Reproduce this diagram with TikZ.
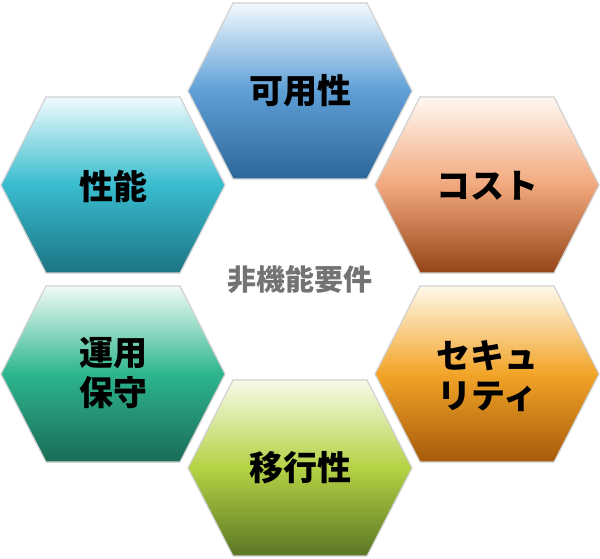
\documentclass[tikz,border=0pt]{standalone}
\usepackage{fontspec}
\newfontfamily\jpfont{Noto Sans CJK JP}
\tikzset{
    hexa/.pic={\path[pic actions] (-112,0) -- (-67,-88) -- (67,-88) -- (112,0) -- (67,88) -- (-67,88) -- cycle;},
    hexbox/.style={draw=black!18, line width=1.2pt},
    label/.style={font=\jpfont\bfseries\fontsize{34}{40}\selectfont, align=center, text=black},
}
\definecolor{blueT}{HTML}{F2F9FE}\definecolor{blueM}{HTML}{5E9FD6}\definecolor{blueB}{HTML}{2C6699}
\definecolor{tealT}{HTML}{EFFBFD}\definecolor{tealM}{HTML}{38BCCE}\definecolor{tealB}{HTML}{1D7484}
\definecolor{peachT}{HTML}{FFF8F3}\definecolor{peachM}{HTML}{F2A87C}\definecolor{peachB}{HTML}{954517}
\definecolor{seaT}{HTML}{F0FBF6}\definecolor{seaM}{HTML}{2DB58E}\definecolor{seaB}{HTML}{1A6B57}
\definecolor{orangeT}{HTML}{FFF9EA}\definecolor{orangeM}{HTML}{F2A428}\definecolor{orangeB}{HTML}{A65A0A}
\definecolor{greenT}{HTML}{F7FBE8}\definecolor{greenM}{HTML}{B4D244}\definecolor{greenB}{HTML}{5A7624}
\begin{document}
\begin{tikzpicture}[x=1pt, y=-1pt]
    \useasboundingbox (0,0) rectangle (600,559);
    \pic[hexbox, top color=blueT, bottom color=blueB, middle color=blueM] at (300,91) {hexa};
    \pic[hexbox, top color=tealT, bottom color=tealB, middle color=tealM] at (113,185) {hexa};
    \pic[hexbox, top color=peachT, bottom color=peachB, middle color=peachM] at (487,185) {hexa};
    \pic[hexbox, top color=seaT, bottom color=seaB, middle color=seaM] at (113,374) {hexa};
    \pic[hexbox, top color=orangeT, bottom color=orangeB, middle color=orangeM] at (487,374) {hexa};
    \pic[hexbox, top color=greenT, bottom color=greenB, middle color=greenM] at (300,468) {hexa};
    \node[label] (avail) at (300,91) {可用性};
    \node[label] (perf) at (113,186) {性能};
    \node[label] (cost) at (487,186) {コスト};
    \node[label] (ops) at (113,373) {運用\\保守};
    \node[label] (sec) at (487,376) {セキュ\\リティ};
    \node[label] (migr) at (300,468) {移行性};
    \node[font=\jpfont\bfseries\fontsize{29}{34}\selectfont, text=black!55] (nfr) at (300,280) {非機能要件};
\end{tikzpicture}
\end{document}
